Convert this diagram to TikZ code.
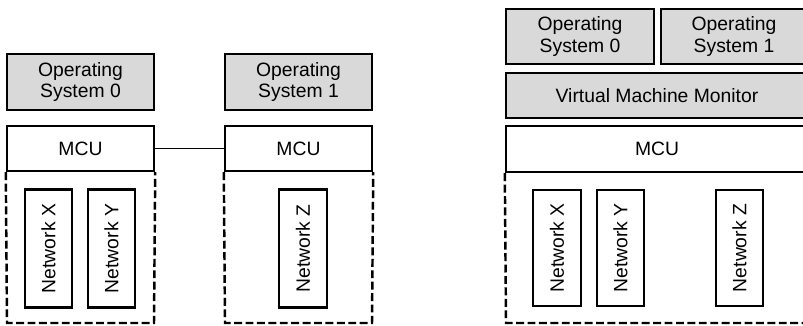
\documentclass[tikz,border=0pt]{standalone}
\usepackage{fontspec}
\setmainfont{Liberation Sans}
\usepackage{xcolor}
\definecolor{osgray}{HTML}{D9D9D9}

\begin{document}
\begin{tikzpicture}[x=0.02cm,y=-0.02cm,
    every node/.style={font=\fontsize{11}{12.3}\selectfont, align=center, inner sep=0pt},
    blk/.style={draw, line width=1.4pt, minimum width=#1},
    osbox/.style={blk=#1, fill=osgray, minimum height=1.11cm},
    mcubox/.style={blk=#1, fill=white, minimum height=0.9cm},
    netbox/.style={draw, line width=1.4pt, rotate=90, minimum width=2.36cm, minimum height=0.95cm},
    memarea/.style={line width=1.4pt, dash pattern=on 4.5pt off 2pt}]
    \useasboundingbox (0,0) rectangle (803,325);
    \clip (0,0) rectangle (803,325);

    % two MCUs, one OS each
    \node[osbox=2.94cm] (osA) at (80.5,82) {Operating\\System 0};
    \node[osbox=2.94cm] (osB) at (298.5,82) {Operating\\System 1};
    \node[mcubox=2.94cm] (mcuA) at (80.5,148.5) {MCU};
    \node[mcubox=2.94cm] (mcuB) at (298.5,148.5) {MCU};
    \draw[line width=0.6pt] (mcuA) -- (mcuB);
    \draw[memarea] (mcuA.south west) -- (7,323) -- (154,323) -- (mcuA.south east);
    \draw[memarea] (mcuB.south west) -- (225,323) -- (372,323) -- (mcuB.south east);
    \node[netbox] (netXa) at (48.5,248.5) {Network X};
    \node[netbox] (netYa) at (111.5,248.5) {Network Y};
    \node[netbox] (netZa) at (303,248.5) {Network Z};

    % one MCU with a VMM
    \node[osbox=2.96cm] (osC) at (580,36.5) {Operating\\System 0};
    \node[osbox=2.92cm] (osD) at (734,36.5) {Operating\\System 1};
    \node[blk=6.04cm, fill=osgray, minimum height=0.9cm] (vmm) at (657,95.5) {Virtual Machine Monitor};
    \node[mcubox=6.04cm, minimum height=0.92cm] (mcuC) at (657,149) {MCU};
    \draw[memarea] (mcuC.south west) -- (506,323) -- (812,323);
    \node[netbox, minimum width=2.32cm] (netXb) at (557,248) {Network X};
    \node[netbox, minimum width=2.32cm] (netYb) at (620.5,248) {Network Y};
    \node[netbox, minimum width=2.32cm] (netZb) at (739.5,248) {Network Z};
\end{tikzpicture}
\end{document}
